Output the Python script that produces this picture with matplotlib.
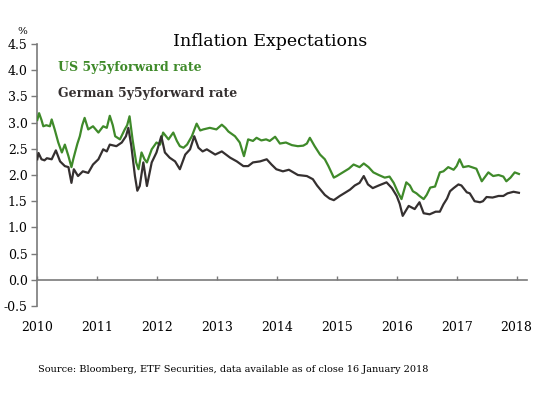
import numpy as np
import matplotlib.pyplot as plt

title = "Inflation Expectations"
source = "Source: Bloomberg, ETF Securities, data available as of close 16 January 2018"

# US 5y5y forward rate (decimal years)
us_t = [2010.00, 2010.03, 2010.07, 2010.10, 2010.15, 2010.21, 2010.24, 2010.29, 2010.35, 2010.41,
        2010.46, 2010.52, 2010.57, 2010.60, 2010.63, 2010.67, 2010.71, 2010.75, 2010.79, 2010.85,
        2010.93, 2011.02, 2011.10, 2011.16, 2011.21, 2011.26, 2011.30, 2011.38, 2011.46, 2011.50,
        2011.54, 2011.59, 2011.65, 2011.69, 2011.74, 2011.79, 2011.83, 2011.91, 2011.99, 2012.05,
        2012.10, 2012.19, 2012.27, 2012.33, 2012.38, 2012.44, 2012.50, 2012.58, 2012.66, 2012.72,
        2012.77, 2012.88, 2012.99, 2013.08, 2013.14, 2013.19, 2013.30, 2013.38, 2013.45, 2013.52,
        2013.60, 2013.66, 2013.74, 2013.82, 2013.88, 2013.97, 2014.05, 2014.15, 2014.25, 2014.35,
        2014.44, 2014.50, 2014.55, 2014.63, 2014.72, 2014.80, 2014.86, 2014.95, 2015.00, 2015.10,
        2015.20, 2015.28, 2015.38, 2015.45, 2015.53, 2015.61, 2015.70, 2015.80, 2015.88, 2015.95,
        2016.02, 2016.08, 2016.16, 2016.22, 2016.27, 2016.33, 2016.38, 2016.45, 2016.50, 2016.56,
        2016.64, 2016.72, 2016.78, 2016.86, 2016.95, 2017.00, 2017.05, 2017.11, 2017.20, 2017.33,
        2017.42, 2017.53, 2017.61, 2017.70, 2017.78, 2017.83, 2017.90, 2017.97, 2018.04]
us_v = [3.05, 3.18, 3.05, 2.93, 2.95, 2.93, 3.06, 2.87, 2.62, 2.43,
        2.58, 2.36, 2.15, 2.30, 2.43, 2.60, 2.74, 2.95, 3.09, 2.87,
        2.93, 2.81, 2.93, 2.90, 3.13, 2.95, 2.74, 2.68, 2.87, 2.95,
        3.12, 2.68, 2.24, 2.11, 2.43, 2.30, 2.24, 2.49, 2.62, 2.58,
        2.81, 2.68, 2.81, 2.65, 2.55, 2.52, 2.58, 2.74, 2.98, 2.85,
        2.87, 2.90, 2.87, 2.96, 2.90, 2.83, 2.74, 2.62, 2.36, 2.68,
        2.65, 2.71, 2.66, 2.68, 2.65, 2.73, 2.60, 2.62, 2.57, 2.55,
        2.56, 2.60, 2.71, 2.55, 2.39, 2.30, 2.17, 1.95, 1.98, 2.05,
        2.12, 2.20, 2.15, 2.22, 2.15, 2.05, 2.00, 1.95, 1.97, 1.85,
        1.67, 1.54, 1.86, 1.80, 1.69, 1.65, 1.60, 1.54, 1.62, 1.76,
        1.78, 2.05, 2.07, 2.15, 2.10, 2.17, 2.30, 2.15, 2.17, 2.12,
        1.88, 2.05, 1.98, 2.00, 1.97, 1.88, 1.95, 2.05, 2.02]

# German 5y5y forward rate
de_t = [2010.00, 2010.02, 2010.07, 2010.12, 2010.16, 2010.24, 2010.31, 2010.38, 2010.46, 2010.52,
        2010.57, 2010.61, 2010.68, 2010.76, 2010.85, 2010.93, 2011.02, 2011.10, 2011.16, 2011.21,
        2011.32, 2011.41, 2011.48, 2011.52, 2011.57, 2011.63, 2011.67, 2011.71, 2011.77, 2011.83,
        2011.91, 2011.99, 2012.07, 2012.13, 2012.21, 2012.30, 2012.38, 2012.47, 2012.55, 2012.62,
        2012.69, 2012.76, 2012.83, 2012.97, 2013.08, 2013.22, 2013.33, 2013.44, 2013.52, 2013.60,
        2013.72, 2013.83, 2013.91, 2013.99, 2014.10, 2014.20, 2014.35, 2014.50, 2014.60, 2014.67,
        2014.72, 2014.80, 2014.88, 2014.95, 2015.05, 2015.15, 2015.22, 2015.30, 2015.38, 2015.45,
        2015.52, 2015.60, 2015.70, 2015.83, 2015.92, 2016.00, 2016.05, 2016.10, 2016.20, 2016.30,
        2016.38, 2016.45, 2016.55, 2016.65, 2016.72, 2016.78, 2016.84, 2016.89, 2016.95, 2017.03,
        2017.08, 2017.17, 2017.22, 2017.30, 2017.39, 2017.44, 2017.50, 2017.60, 2017.70, 2017.78,
        2017.85, 2017.95, 2018.04]
de_v = [2.30, 2.42, 2.30, 2.28, 2.32, 2.30, 2.47, 2.26, 2.17, 2.15,
        1.85, 2.11, 1.98, 2.07, 2.04, 2.20, 2.30, 2.49, 2.45, 2.58,
        2.55, 2.62, 2.74, 2.90, 2.55, 1.98, 1.70, 1.79, 2.24, 1.79,
        2.24, 2.43, 2.74, 2.43, 2.33, 2.26, 2.11, 2.39, 2.49, 2.74,
        2.52, 2.45, 2.49, 2.39, 2.45, 2.33, 2.26, 2.17, 2.17, 2.24,
        2.26, 2.30, 2.20, 2.11, 2.07, 2.10, 2.00, 1.98, 1.92, 1.80,
        1.73, 1.62, 1.55, 1.52, 1.60, 1.67, 1.72, 1.80, 1.85, 1.98,
        1.82, 1.75, 1.80, 1.86, 1.75, 1.60, 1.45, 1.22, 1.41, 1.35,
        1.48, 1.27, 1.25, 1.30, 1.30, 1.44, 1.55, 1.69, 1.75, 1.82,
        1.80, 1.67, 1.65, 1.50, 1.48, 1.50, 1.58, 1.57, 1.60, 1.60,
        1.65, 1.68, 1.66]

years = [2010, 2011, 2012, 2013, 2014, 2015, 2016, 2017, 2018]
yticks = [-0.5, 0.0, 0.5, 1.0, 1.5, 2.0, 2.5, 3.0, 3.5, 4.0, 4.5]

green = '#3f8a2a'
dark = '#353030'
axis_col = '#7a7a7a'
serif = 'DejaVu Serif'

W, H = 556, 394
fig = plt.figure(figsize=(W / 100, H / 100), dpi=100)
ax = fig.add_axes([37.3 / W, 1 - 306 / H, (526.7 - 37.3) / W, (306 - 44) / H])

ax.plot(us_t, us_v, color=green, lw=1.6, zorder=3)
ax.plot(de_t, de_v, color=dark, lw=1.6, zorder=4)

ax.set_xlim(2010, 2018.17)
ax.set_ylim(-0.5, 4.5)

for s in ['top', 'right']:
    ax.spines[s].set_visible(False)
ax.spines['left'].set_color(axis_col)
ax.spines['left'].set_linewidth(1.2)
ax.spines['bottom'].set_position(('data', 0))
ax.spines['bottom'].set_color(axis_col)
ax.spines['bottom'].set_linewidth(1.2)

ax.set_yticks(yticks)
ax.set_yticklabels(['%.1f' % v for v in yticks], fontfamily=serif, fontsize=9)
ax.set_xticks(years)
ax.set_xticklabels([str(y) for y in years], fontfamily=serif, fontsize=9)
ax.tick_params(axis='y', direction='out', length=4, width=1, color=axis_col, pad=3)
ax.tick_params(axis='x', direction='in', length=3, width=1, color=axis_col, pad=30)

fig.text(22 / W, 1 - 31 / H, '%', fontfamily=serif, fontsize=7.5, ha='center', va='center')
fig.text(270 / W, 1 - 42 / H, title, fontfamily=serif, fontsize=12.5, ha='center', va='center')
fig.text(58 / W, 1 - 67 / H, 'US 5y5yforward rate', color=green, fontfamily=serif,
         fontsize=9, fontweight='bold', ha='left', va='center')
fig.text(58 / W, 1 - 93 / H, 'German 5y5yforward rate', color=dark, fontfamily=serif,
         fontsize=9, fontweight='bold', ha='left', va='center')
fig.text(38 / W, 1 - 370 / H, source, fontfamily=serif, fontsize=7, ha='left', va='center')

fig.savefig('out.png', dpi=100)
